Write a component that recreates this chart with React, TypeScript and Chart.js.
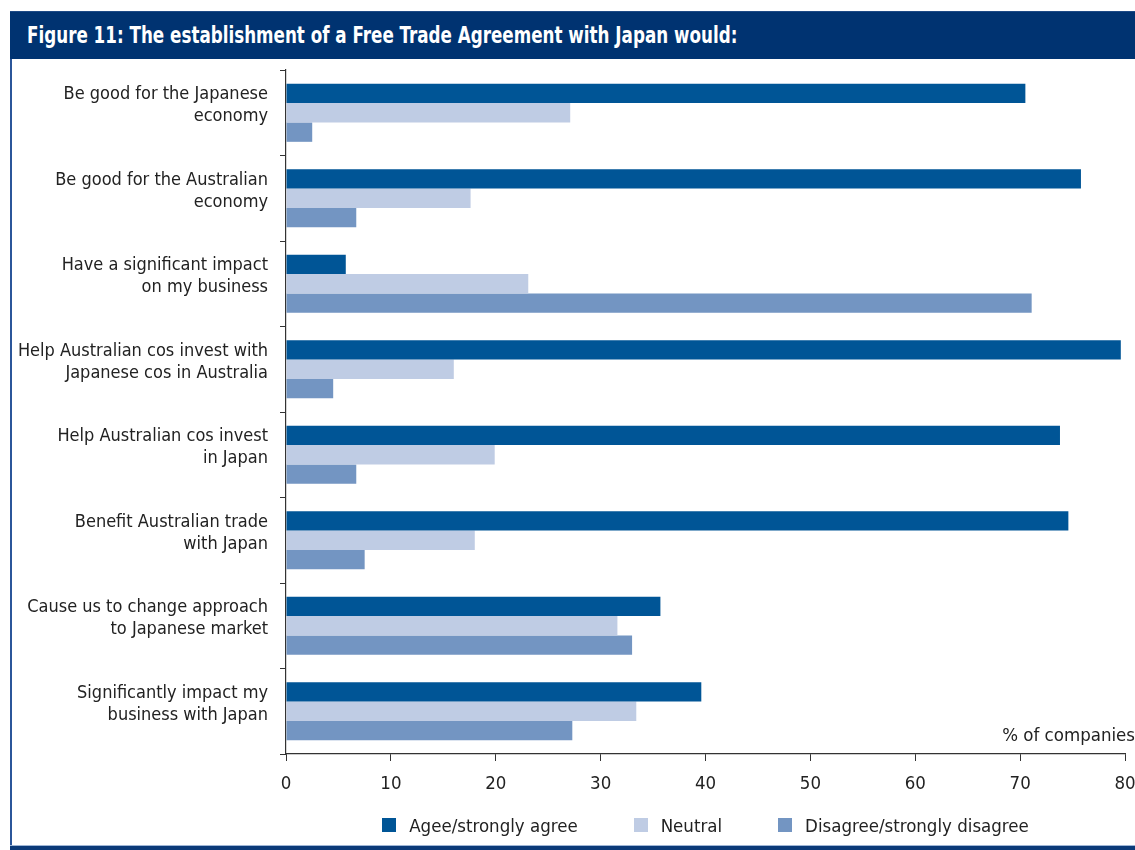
import React, { useEffect, useRef } from "react";
import { Chart, registerables } from "chart.js";

Chart.register(...registerables);

const TITLE = "Figure 11: The establishment of a Free Trade Agreement with Japan would:";
const AXIS_NOTE = "% of companies";

const categories: string[][] = [
  ["Be good for the Japanese", "economy"],
  ["Be good for the Australian", "economy"],
  ["Have a significant impact", "on my business"],
  ["Help Australian cos invest with", "Japanese cos in Australia"],
  ["Help Australian cos invest", "in Japan"],
  ["Benefit Australian trade", "with Japan"],
  ["Cause us to change approach", "to Japanese market"],
  ["Significantly impact my", "business with Japan"],
];

const seriesNames = ["Agee/strongly agree", "Neutral", "Disagree/strongly disagree"];
const agreeValues = [70.5, 75.8, 5.7, 79.6, 73.8, 74.6, 35.7, 39.6];
const neutralValues = [27.1, 17.6, 23.1, 16.0, 19.9, 18.0, 31.6, 33.4];
const disagreeValues = [2.5, 6.7, 71.1, 4.5, 6.7, 7.5, 33.0, 27.3];
const seriesColors = ["#005596", "#bfcce4", "#7395c2"];

const xMin = 0;
const xMax = 80;
const xStep = 10;

const NARROW = "'DejaVu Sans Condensed', 'Liberation Sans Narrow', sans-serif";

export default function App() {
  const canvasRef = useRef<HTMLCanvasElement | null>(null);

  useEffect(() => {
    document.body.style.margin = "0";
    const canvas = canvasRef.current;
    if (!canvas) return;
    const chart = new Chart(canvas, {
      type: "bar",
      data: {
        labels: categories,
        datasets: [
          { label: seriesNames[0], data: agreeValues, backgroundColor: seriesColors[0] },
          { label: seriesNames[1], data: neutralValues, backgroundColor: seriesColors[1] },
          { label: seriesNames[2], data: disagreeValues, backgroundColor: seriesColors[2] },
        ],
      },
      options: {
        indexAxis: "y",
        animation: false,
        responsive: false,
        devicePixelRatio: 1,
        layout: { padding: { top: 10, right: 10, left: 0, bottom: 16 } },
        datasets: { bar: { categoryPercentage: 0.68, barPercentage: 1.0, borderWidth: 0 } },
        font: { family: NARROW, size: 18 },
        scales: {
          x: {
            min: xMin,
            max: xMax,
            ticks: { stepSize: xStep, color: "#222", padding: 12, font: { family: NARROW, size: 18.5 } },
            grid: { drawOnChartArea: false, tickLength: 7, color: "#333", tickColor: "#333" },
            border: { color: "#333", width: 1.2 },
            afterFit: (s: any) => {
              s.height = 50;
              s.paddingLeft = 0;
              s.paddingRight = 0;
            },
          },
          y: {
            ticks: { color: "#222", padding: 12, labelOffset: -7, font: { family: NARROW, size: 18, lineHeight: 1.22 } },
            grid: { drawOnChartArea: false, tickLength: 6, color: "#333", tickColor: "#333" },
            border: { color: "#333", width: 1.2 },
            afterFit: (s: any) => {
              s.width = 274;
              s.paddingTop = 0;
              s.paddingBottom = 0;
            },
          },
        },
        plugins: {
          legend: { display: false },
          tooltip: { enabled: false },
        },
      },
    });
    return () => chart.destroy();
  }, []);

  return (
    <div style={{ position: "fixed", left: 0, top: 0, width: 1135, height: 850, background: "#fff", overflow: "hidden" }}>
      <div
        style={{
          position: "absolute", left: 10, top: 11, width: 1125, height: 48, background: "#003371",
          borderTop: "1px solid #1d4a86", boxSizing: "border-box",
        }}
      >
        <div
          style={{
            position: "absolute", left: 17, top: 0, height: 47, lineHeight: "47px", color: "#fff",
            fontFamily: NARROW, fontWeight: "bold", fontSize: 23, whiteSpace: "nowrap",
            transform: "scaleX(0.81)", transformOrigin: "left center",
          }}
        >
          {TITLE}
        </div>
      </div>
      <div style={{ position: "absolute", left: 10, top: 59, width: 2, height: 788, background: "#2b569a" }} />
      <div
        style={{
          position: "absolute", left: 10, top: 845, width: 1125, height: 5, background: "#0b3a78",
          borderTop: "1px solid #9fb6d6", boxSizing: "border-box",
        }}
      />
      <canvas ref={canvasRef} width={1123} height={760} style={{ position: "absolute", left: 12, top: 60, width: 1123, height: 760 }} />
      <div
        style={{
          position: "absolute", right: 0, top: 723, lineHeight: "24px", color: "#222",
          fontFamily: NARROW, fontSize: 18.5, whiteSpace: "nowrap",
        }}
      >
        {AXIS_NOTE}
      </div>
      <div
        style={{
          position: "absolute", left: 286, width: 839, top: 813, height: 24, display: "flex",
          justifyContent: "center", alignItems: "center", gap: 56,
          fontFamily: NARROW, fontSize: 18.5, color: "#222",
        }}
      >
        {seriesNames.map((name, i) => (
          <div key={name} style={{ display: "flex", alignItems: "center", whiteSpace: "nowrap" }}>
            <span style={{ display: "inline-block", width: 14, height: 14, background: seriesColors[i], marginRight: 13 }} />
            <span>{name}</span>
          </div>
        ))}
      </div>
    </div>
  );
}
